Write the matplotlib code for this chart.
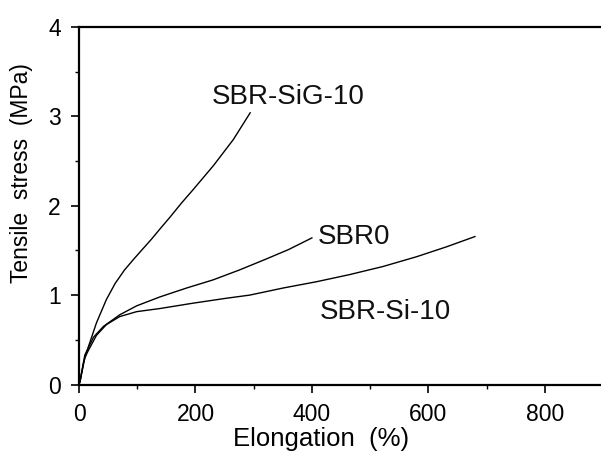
import matplotlib
matplotlib.use('Agg')
import matplotlib.pyplot as plt
from matplotlib.ticker import MultipleLocator

plt.rcParams['font.family'] = ['Liberation Sans', 'DejaVu Sans']

# Stress-strain curves
sig_x = [0, 2, 8, 16, 30, 47, 62, 78, 95, 110, 125, 139, 156, 176, 196, 231, 265, 294]
sig_y = [0, 0.05, 0.25, 0.42, 0.69, 0.95, 1.13, 1.28, 1.41, 1.52, 1.63, 1.74, 1.87, 2.03, 2.18, 2.45, 2.74, 3.04]

sbr0_x = [0, 2, 10, 25, 42, 70, 99, 139, 185, 230, 275, 320, 360, 400]
sbr0_y = [0, 0.04, 0.33, 0.53, 0.65, 0.78, 0.88, 0.98, 1.08, 1.17, 1.28, 1.40, 1.51, 1.64]

si_x = [0, 2, 10, 16, 30, 47, 70, 99, 139, 196, 253, 293, 351, 408, 465, 522, 580, 631, 680]
si_y = [0, 0.04, 0.30, 0.38, 0.55, 0.67, 0.76, 0.815, 0.85, 0.91, 0.965, 1.00, 1.08, 1.15, 1.23, 1.32, 1.43, 1.54, 1.655]

labels = ['SBR-SiG-10', 'SBR0', 'SBR-Si-10']
label_pos = [(228, 3.22), (410, 1.655), (414, 0.815)]

fig = plt.figure(figsize=(6.01, 4.55), dpi=100)
ax = fig.add_axes([79 / 601, 70.5 / 455, 524 / 601, 357.5 / 455])

# Draw the three curves
for xs, ys in [(sig_x, sig_y), (sbr0_x, sbr0_y), (si_x, si_y)]:
    ax.plot(xs, ys, color='black', lw=1.0)

for txt, (tx, ty) in zip(labels, label_pos):
    ax.text(tx, ty, txt, fontsize=20, ha='left', va='center', color='#111111')

ax.set_xlim(0, 900)
ax.set_ylim(0, 4)
ax.xaxis.set_major_locator(MultipleLocator(200))
ax.xaxis.set_minor_locator(MultipleLocator(100))
ax.yaxis.set_major_locator(MultipleLocator(1))
ax.yaxis.set_minor_locator(MultipleLocator(0.5))
ax.tick_params(which='major', direction='out', length=6, width=1.2, labelsize=16.5, pad=7)
ax.tick_params(which='minor', direction='out', length=3, width=1.0)

for sp in ax.spines.values():
    sp.set_linewidth(1.6)

ax.set_xlabel('Elongation  (%)', fontsize=18.5)
ax.set_ylabel('Tensile  stress  (MPa)', fontsize=16.5)
ax.xaxis.set_label_coords(0.462, -0.12)
ax.yaxis.set_label_coords(-0.088, 0.592)

plt.savefig('out.png', dpi=100)
